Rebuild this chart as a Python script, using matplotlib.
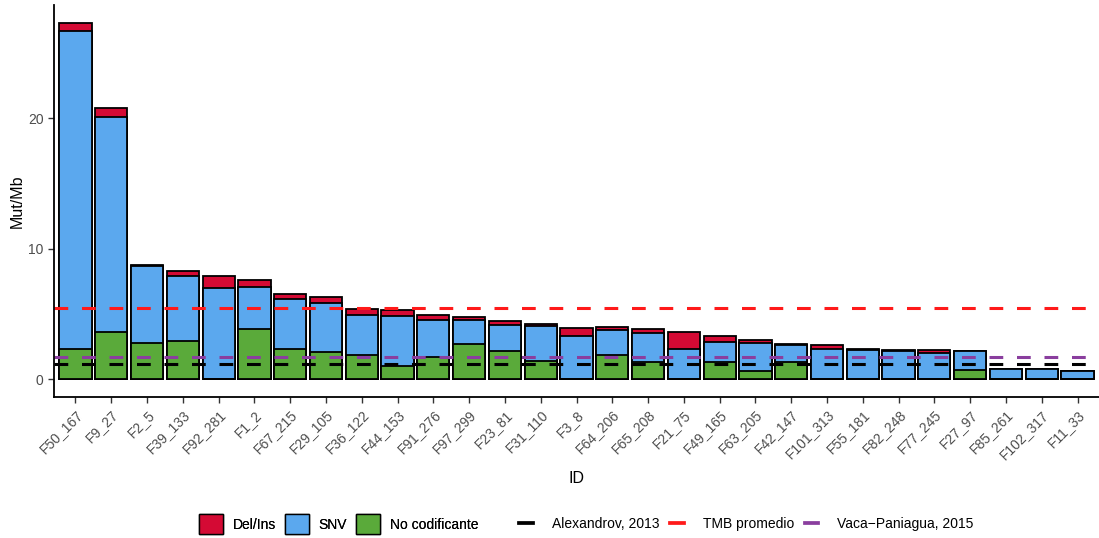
import numpy as np
import matplotlib.pyplot as plt
from matplotlib.patches import Patch
from matplotlib.lines import Line2D

plt.rcParams['font.family'] = ['Liberation Sans', 'DejaVu Sans']

# muestras ordenadas por TMB total
ids = ["F50_167", "F9_27", "F2_5", "F39_133", "F92_281", "F1_2", "F67_215",
       "F29_105", "F36_122", "F44_153", "F91_276", "F97_299", "F23_81",
       "F31_110", "F3_8", "F64_206", "F65_208", "F21_75", "F49_165",
       "F63_205", "F42_147", "F101_313", "F55_181", "F82_248", "F77_245",
       "F27_97", "F85_261", "F102_317", "F11_33"]

# Mut/Mb por tipo de variante (barras superpuestas desde 0)
del_ins = [27.3, 20.8, 8.77, 8.28, 7.9, 7.56, 6.49, 6.28, 5.38, 5.28, 4.9,
           4.77, 4.49, 4.26, 3.95, 3.97, 3.87, 3.59, 3.29, 2.97, 2.69, 2.59,
           2.28, 2.26, 2.26, 2.18, 0.8, 0.8, 0.62]
snv = [26.7, 20.1, 8.65, 7.87, 6.97, 7.08, 6.15, 5.8, 4.95, 4.85, 4.56,
       4.54, 4.15, 4.05, 3.28, 3.77, 3.56, 2.28, 2.84, 2.77, 2.6, 2.31,
       2.26, 2.15, 2.0, 2.15, 0.8, 0.8, 0.62]
no_codificante = [2.3, 3.6, 2.77, 2.9, 0.0, 3.87, 2.28, 2.1, 1.87, 1.0, 1.67,
                  2.69, 2.18, 1.38, 0.0, 1.87, 1.28, 0.0, 1.28, 0.62, 1.31,
                  0.0, 0.0, 0.0, 0.0, 0.69, 0.0, 0.0, 0.0]

# valores de referencia
referencias = {"Alexandrov, 2013": 1.2,
               "TMB promedio": 5.48,
               "Vaca\u2212Paniagua, 2015": 1.67}
colores_ref = {"Alexandrov, 2013": "black",
               "TMB promedio": "#ff1a1a",
               "Vaca\u2212Paniagua, 2015": "#8a3e9e"}

c_del, c_snv, c_nc = "#d40a34", "#5ba8ee", "#5aaa3a"

fig = plt.figure(figsize=(10.99, 5.38), dpi=100)
ax = fig.add_axes([54 / 1099, 1 - 397 / 538, 1 - 54 / 1099, (397 - 5) / 538])

x = np.arange(len(ids))
for vals, col in [(del_ins, c_del), (snv, c_snv), (no_codificante, c_nc)]:
    ax.bar(x, vals, width=0.9, color=col, edgecolor="black", linewidth=1.3)

for nombre, val in referencias.items():
    ax.axhline(val, color=colores_ref[nombre], linestyle=(0, (4.5, 4.5)),
               linewidth=2.2)

ymax = max(del_ins)
ax.set_ylim(-0.05 * ymax, 1.05 * ymax)
ax.set_xlim(-0.6, len(ids) - 1 + 0.6)
ax.set_yticks([0, 10, 20])
ax.set_xticks(x)
ax.set_xticklabels(ids, rotation=45, ha="right", rotation_mode="anchor")
ax.tick_params(axis="both", colors="#333333", labelsize=10, length=4,
               width=1.0)
ax.tick_params(axis="x", labelcolor="#4d4d4d")
ax.tick_params(axis="y", labelcolor="#4d4d4d")

for s in ["top", "right"]:
    ax.spines[s].set_visible(False)
for s in ["left", "bottom"]:
    ax.spines[s].set_linewidth(1.3)

ax.set_ylabel("Mut/Mb", fontsize=11.5, labelpad=2)
ax.set_xlabel("ID", fontsize=11.5, labelpad=7)

handles = [Patch(facecolor=c_del, edgecolor="black", label="Del/Ins"),
           Patch(facecolor=c_snv, edgecolor="black", label="SNV"),
           Patch(facecolor=c_nc, edgecolor="black", label="No codificante")]
lineas = [Line2D([0], [0], color=colores_ref[n], linewidth=2.7, label=n)
          for n in referencias]

leg1 = fig.legend(handles=handles, loc="center",
                  bbox_to_anchor=(338.5 / 1099, 1 - 524 / 538),
                  ncol=3, frameon=False, fontsize=10, handlelength=1.73,
                  handleheight=1.73, columnspacing=0.62, handletextpad=0.72)
fig.add_artist(leg1)
fig.legend(handles=lineas, loc="center",
           bbox_to_anchor=(746.5 / 1099, 1 - 524 / 538),
           ncol=3, frameon=False, fontsize=10, handlelength=0.95,
           columnspacing=0.8, handletextpad=1.37)

fig.savefig("out.png", dpi=100)
